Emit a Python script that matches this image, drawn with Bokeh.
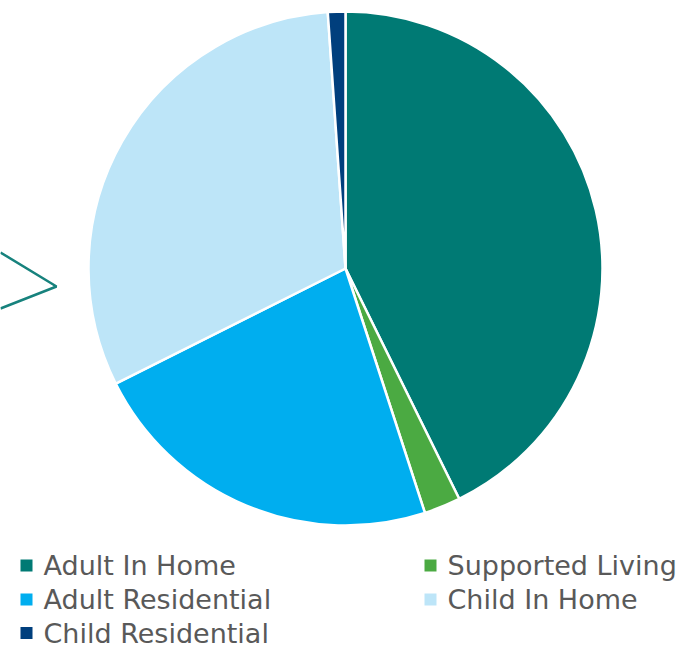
import numpy as np
from bokeh.plotting import figure
from bokeh.models import Range1d, ColumnDataSource
from bokeh.core.properties import value
from bokeh.embed import file_html
from bokeh.resources import INLINE

categories = ["Adult In Home", "Supported Living", "Adult Residential", "Child In Home", "Child Residential"]
shares = [42.7, 2.3, 22.6, 31.3, 1.1]
colors = ["#007A74", "#4BAA42", "#00AEEF", "#BDE5F8", "#003F7D"]

W, H = 682, 649
p = figure(width=W, height=H, output_backend="svg", toolbar_location=None,
           x_range=Range1d(0, W), y_range=Range1d(0, H), min_border=0)
p.axis.visible = False
p.grid.visible = False
p.outline_line_color = None
p.background_fill_color = "white"

def Y(py):
    # page pixel y -> data y
    return H - py

def X(px):
    return px

cx, cy, r = X(345), Y(268), 257
vals = np.array(shares, dtype=float)
frac = vals / vals.sum()
ends = np.cumsum(frac)
starts = ends - frac
start_angle = np.pi / 2 - starts * 2 * np.pi
end_angle = np.pi / 2 - ends * 2 * np.pi
src = ColumnDataSource(dict(start=start_angle, end=end_angle, color=colors, name=categories))
p.wedge(x=cx, y=cy, radius=r, start_angle="start", end_angle="end", direction="clock",
        fill_color="color", line_color="white", line_width=2.5, source=src)

# decorative callout outline at left edge
p.line(x=[X(0), X(56), X(0)], y=[Y(252), Y(286), Y(308)], line_color="#17827D", line_width=2.5)

# legend
col_x = [X(20), X(424)]
row_mid = [Y(565), Y(599), Y(632.5)]
lx, ly, tx, ty = [], [], [], []
for i, name in enumerate(categories):
    c, rr = i % 2, i // 2
    lx.append(col_x[c] + 6)
    ly.append(row_mid[rr])
    tx.append(col_x[c] + 23)
    ty.append(row_mid[rr])
lsrc = ColumnDataSource(dict(x=lx, y=ly, tx=tx, ty=ty, color=colors, name=categories))
p.rect(x="x", y="y", width=12, height=12, fill_color="color", line_color=None, source=lsrc)
p.text(x="tx", y="ty", text="name", text_font=value("DejaVu Sans"), text_font_size="27px",
       text_color="#595959", text_baseline="middle", source=lsrc)

open("out.html", "w").write(file_html(p, INLINE))
